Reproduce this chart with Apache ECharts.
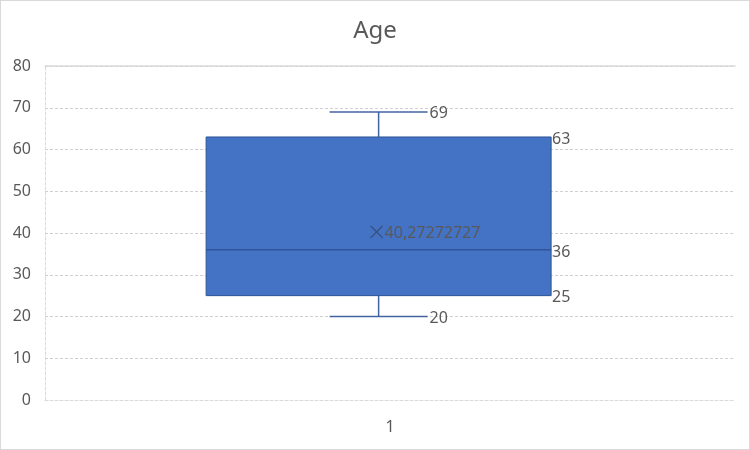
<!DOCTYPE html>
<html>
<head>
<meta charset="utf-8">
<script src="https://cdn.jsdelivr.net/npm/echarts@6/dist/echarts.min.js"></script>
<style>
html,body{margin:0;padding:0;background:#fff;}
#c{width:750px;height:450px;box-sizing:border-box;border:1px solid #d9d9d9;}
</style>
</head>
<body>
<div id="c"></div>
<script>
const categories = ['1'];
const minVals = [20];
const q1Vals = [25];
const medianVals = [36];
const q3Vals = [63];
const maxVals = [69];
const meanVals = [40.27272727];
const yTicks = [0, 10, 20, 30, 40, 50, 60, 70, 80];

const TXT = '#595959';
const FONT = 'Noto Sans';
const chart = echarts.init(document.getElementById('c'));

const data = categories.map((c, i) => [i, minVals[i], q1Vals[i], medianVals[i], q3Vals[i], maxVals[i], meanVals[i]]);

function fmt(v){ return String(v).replace('.', ','); }

chart.setOption({
  animation: false,
  title: {
    text: 'Age', left: 'center', top: 13,
    textStyle: { fontFamily: FONT, fontSize: 24, fontWeight: 'normal', color: TXT }
  },
  grid: { left: 44, right: 14, top: 65, bottom: 49 },
  xAxis: [{
    type: 'category', data: categories,
    axisLine: { show: true, lineStyle: { color: '#d9d9d9', type: [3, 2] } },
    axisTick: { show: false },
    axisLabel: { color: TXT, fontFamily: FONT, fontSize: 16, margin: 19 }
  }, {
    type: 'category', data: categories, position: 'top',
    axisLine: { show: true, lineStyle: { color: '#d9d9d9', width: 1.5 } },
    axisTick: { show: false }, axisLabel: { show: false }
  }],
  yAxis: {
    type: 'value', min: yTicks[0], max: yTicks[yTicks.length - 1], interval: 10,
    axisLine: { show: true, lineStyle: { color: '#d9d9d9', type: [3, 2] } },
    axisTick: { show: false },
    axisLabel: { color: TXT, fontFamily: FONT, fontSize: 16, margin: 14, padding: [4, 0, 0, 0] },
    splitLine: { lineStyle: { color: '#d0d0d0', type: [3, 2] } }
  },
  series: [{
    type: 'custom',
    data: data,
    encode: { x: 0, y: [1, 2, 3, 4, 5] },
    renderItem: function (params, api) {
      const idx = api.value(0);
      const band = api.size([1, 0])[0];
      const cx = api.coord([idx, 0])[0] - band * 0.0165;
      const boxW = band * 0.5;
      const capW = band * 0.142;
      const yMin = api.coord([idx, api.value(1)])[1];
      const yQ1 = api.coord([idx, api.value(2)])[1];
      const yMed = api.coord([idx, api.value(3)])[1];
      const yQ3 = api.coord([idx, api.value(4)])[1];
      const yMax = api.coord([idx, api.value(5)])[1];
      const yMean = api.coord([idx, api.value(6)])[1];
      const wc = '#41649f';
      const bl = cx - boxW / 2, br = cx + boxW / 2;
      const ts = (t, x, y) => ({
        type: 'text',
        style: { text: t, x: x, y: y + 2, fill: TXT, font: '16px "' + FONT + '"', verticalAlign: 'middle', align: 'left' }
      });
      const m = 6;
      return {
        type: 'group',
        children: [
          { type: 'line', shape: { x1: cx, y1: yMax, x2: cx, y2: yQ3 }, style: { stroke: wc, lineWidth: 1.5 } },
          { type: 'line', shape: { x1: cx, y1: yQ1, x2: cx, y2: yMin }, style: { stroke: wc, lineWidth: 1.5 } },
          { type: 'line', shape: { x1: cx - capW / 2, y1: yMax, x2: cx + capW / 2, y2: yMax }, style: { stroke: wc, lineWidth: 1.5 } },
          { type: 'line', shape: { x1: cx - capW / 2, y1: yMin, x2: cx + capW / 2, y2: yMin }, style: { stroke: wc, lineWidth: 1.5 } },
          { type: 'rect', shape: { x: bl, y: yQ3, width: boxW, height: yQ1 - yQ3 }, style: { fill: '#4472C4', stroke: '#2F5597', lineWidth: 1 } },
          { type: 'line', shape: { x1: bl, y1: yMed, x2: br, y2: yMed }, style: { stroke: '#2F5597', lineWidth: 1.5 } },
          { type: 'line', shape: { x1: cx - 2 - m, y1: yMean - m, x2: cx - 2 + m, y2: yMean + m }, style: { stroke: '#3a4f75', lineWidth: 1.3 } },
          { type: 'line', shape: { x1: cx - 2 - m, y1: yMean + m, x2: cx - 2 + m, y2: yMean - m }, style: { stroke: '#3a4f75', lineWidth: 1.3 } },
          ts(fmt(api.value(6)), cx + 6, yMean),
          ts(String(api.value(5)), cx + capW / 2 + 2, yMax),
          ts(String(api.value(4)), br + 1, yQ3),
          ts(String(api.value(3)), br + 1, yMed + 1),
          ts(String(api.value(2)), br + 1, yQ1),
          ts(String(api.value(1)), cx + capW / 2 + 2, yMin)
        ]
      };
    }
  }]
});
</script>
</body>
</html>
